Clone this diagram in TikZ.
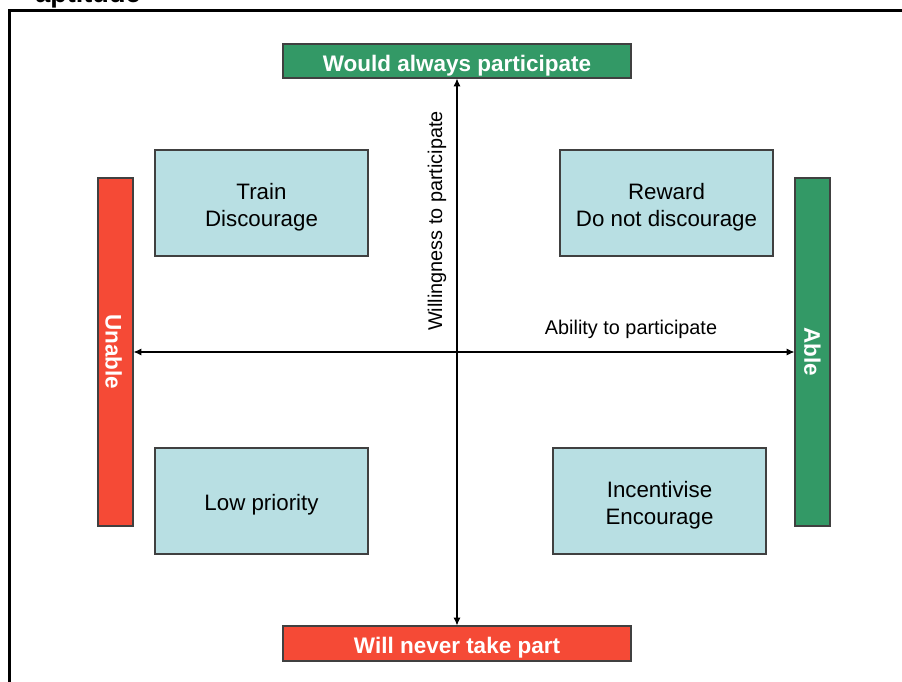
\documentclass[tikz,border=0pt]{standalone}
\usepackage{fontspec}
\setmainfont{Liberation Sans}
\usepackage{xcolor}
\usetikzlibrary{arrows.meta, positioning}
\definecolor{goodgreen}{RGB}{51,153,102}
\definecolor{badred}{RGB}{245,74,54}
\definecolor{quadblue}{RGB}{184,223,227}
% text sits a little low in its box, as in the slide
\newcommand\lowtext[1]{\raisebox{-2.4pt}[\height][\depth]{#1}}

\begin{document}
\begin{tikzpicture}[x=0.02cm, y=-0.02cm, >={Latex[length=4.5pt,width=4pt]},
    quadbox/.style={draw=black!75, line width=0.6pt, fill=quadblue, minimum width=213*0.02cm,
      minimum height=106*0.02cm, align=center, font=\fontsize{12.7}{15.3}\selectfont},
    endbar/.style={draw=black!75, line width=0.6pt, text=white, inner sep=0pt,
      font=\bfseries\fontsize{12.8}{15}\selectfont},
    axislabel/.style={font=\fontsize{11.3}{13}\selectfont, inner sep=0pt}]
    \useasboundingbox (0,0) rectangle (902,682);

    % cut-off heading and frame
    \node[anchor=base west, inner sep=0pt, font=\bfseries\fontsize{15.4}{18}\selectfont] (heading) at (35,3) {aptitude};
    \draw[line width=1.4pt] (940,10.5) -- (9.5,10.5) -- (9.5,720);

    % ends of the axes
    \node[endbar, fill=goodgreen, minimum width=348*0.02cm, minimum height=34*0.02cm] (always) at (457,61) {\lowtext{Would always participate}};
    \node[endbar, fill=badred, minimum width=348*0.02cm, minimum height=35*0.02cm] (never) at (457,643.5) {\lowtext{Will never take part}};
    \node[endbar, fill=badred, minimum width=348*0.02cm, minimum height=35*0.02cm, rotate=-90] (unable) at (115.5,352) {\raisebox{-1pt}[\height][\depth]{Unable}};
    \node[endbar, fill=goodgreen, minimum width=348*0.02cm, minimum height=35*0.02cm, rotate=-90] (able) at (812.5,352) {Able};

    % quadrants
    \node[quadbox] (train) at (261.5,203) {\lowtext{Train}\\\lowtext{Discourage}};
    \node[quadbox] (reward) at (666.5,203) {\lowtext{Reward}\\\lowtext{Do not discourage}};
    \node[quadbox] (low) at (261.5,501) {\lowtext{Low priority}};
    \node[quadbox] (incent) at (659.5,501) {\lowtext{Incentivise}\\\lowtext{Encourage}};

    % axes
    \draw[<->, line width=0.6pt] (always.south) -- (never.north);
    \draw[<->, line width=0.6pt] (unable.north) -- (able.south);
    \node[axislabel, rotate=90] (willing) at (437,221) {Willingness to participate};
    \node[axislabel] (ability) at (631,329) {Ability to participate};

  \end{tikzpicture}
\end{document}
